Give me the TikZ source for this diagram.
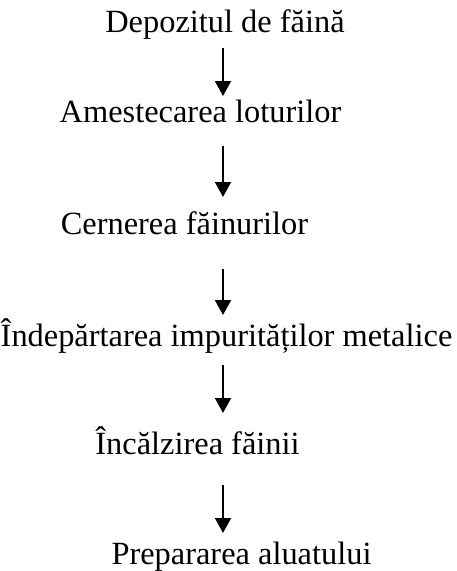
\documentclass[tikz,border=0pt]{standalone}
\usepackage{fontspec}
\setmainfont{Liberation Serif}
\usetikzlibrary{arrows.meta}
\begin{document}
\begin{tikzpicture}[x=1pt,y=1pt,
  stepbox/.style={anchor=base,inner sep=0pt,font=\fontsize{32.4}{38}\selectfont},
  flow/.style={line width=2pt,-{Triangle[length=15pt,width=16pt]}}]
\useasboundingbox (0,0) rectangle (456,-571);
\node[stepbox] (n1) at (225,-32) {Depozitul de făină};
\node[stepbox] (n2) at (200.5,-122) {Amestecarea loturilor};
\node[stepbox] (n3) at (184.5,-234) {Cernerea făinurilor};
\node[stepbox] (n4) at (226.5,-346) {Îndepărtarea impurităților metalice};
\node[stepbox] (n5) at (197.5,-454) {Încălzirea făinii};
\node[stepbox] (n6) at (241.5,-564) {Prepararea aluatului};
\coordinate (s1) at (223,-48);  \coordinate (e1) at (223,-96);
\coordinate (s2) at (223,-146); \coordinate (e2) at (223,-197);
\coordinate (s3) at (223,-269); \coordinate (e3) at (223,-315);
\coordinate (s4) at (223,-365); \coordinate (e4) at (223,-413);
\coordinate (s5) at (223,-485); \coordinate (e5) at (223,-533);
\draw[flow] (s1) -- (e1);
\draw[flow] (s2) -- (e2);
\draw[flow] (s3) -- (e3);
\draw[flow] (s4) -- (e4);
\draw[flow] (s5) -- (e5);
\end{tikzpicture}
\end{document}
